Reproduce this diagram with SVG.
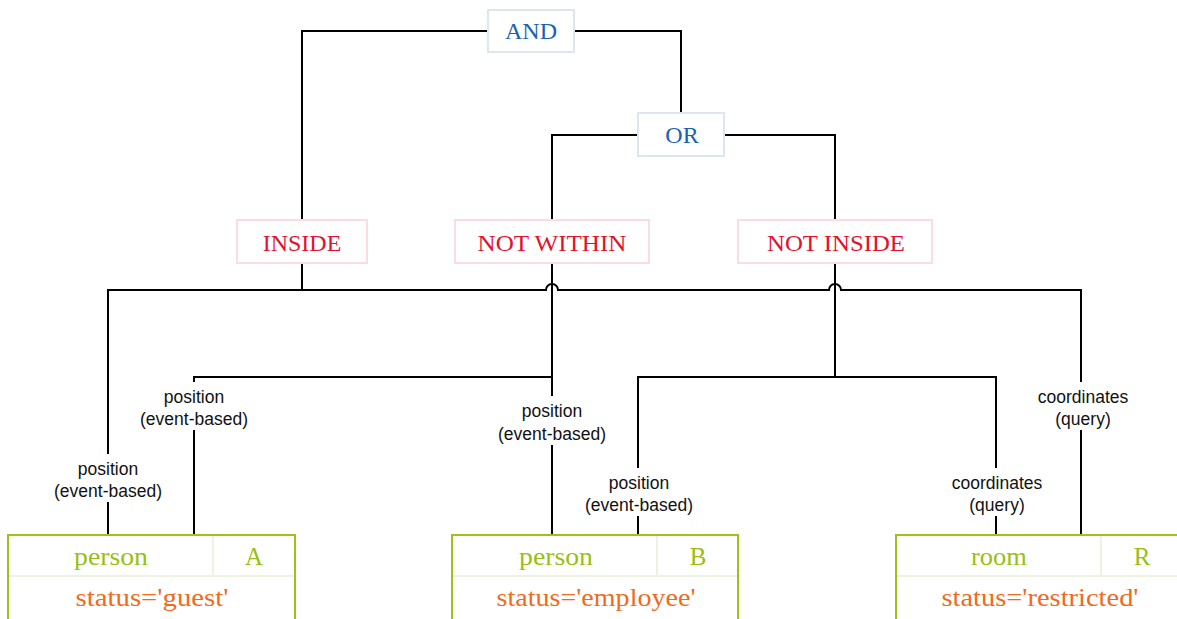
<svg xmlns="http://www.w3.org/2000/svg" width="1177" height="619" viewBox="0 0 1177 619">
  <style>
    .bg { fill: #ffffff; }
    .op { fill: #ffffff; stroke-width: 2; }
    .op-and { stroke: #dde5ef; }
    .op-pred { stroke: #fbdde1; }
    .t-and { font-family: "Liberation Serif", serif; font-size: 24px; fill: #1a63b0; text-anchor: middle; }
    .t-pred { font-family: "Liberation Serif", serif; font-size: 24px; fill: #e3112d; text-anchor: middle; }
    .ent { fill: #ffffff; stroke: #9cc21b; stroke-width: 2; }
    .ent-div { stroke: #eef2e1; stroke-width: 2; fill: none; }
    .t-ent { font-family: "Liberation Serif", serif; font-size: 25px; fill: #98bf14; text-anchor: middle; }
    .t-attr { font-family: "Liberation Serif", serif; font-size: 25px; fill: #f06a1c; text-anchor: middle; }
    .wire { fill: none; stroke: #000000; stroke-width: 2; }
    .lbl-bg { fill: #ffffff; }
    .lbl { font-family: "Liberation Sans", Arial, sans-serif; font-size: 17.5px; fill: #111111; text-anchor: middle; }
  </style>

  <rect class="bg" x="0" y="0" width="1177" height="619"/>

  <!-- wiring between operators and entities -->
  <g id="connectors">
    <path class="wire" d="M488 31 H302 V220"/>
    <path class="wire" d="M574 31 H681 V113"/>
    <path class="wire" d="M638 135 H552 V220"/>
    <path class="wire" d="M724 135 H835 V220"/>
    <path class="wire" d="M302 263 V290"/>
    <path class="wire" d="M108 535 V290 H546 A6 6 0 0 1 558 290 H829 A6 6 0 0 1 841 290 H1081 V535"/>
    <path class="wire" d="M552 263 V535"/>
    <path class="wire" d="M552 377 H194 V535"/>
    <path class="wire" d="M835 263 V377"/>
    <path class="wire" d="M638 535 V377 H996 V535"/>

    <g id="label-a1">
      <rect class="lbl-bg" x="50" y="454" width="116" height="48"/>
      <text class="lbl" x="108" y="475">position</text>
      <text class="lbl" x="108" y="497">(event-based)</text>
    </g>
    <g id="label-a2">
      <rect class="lbl-bg" x="136" y="382" width="116" height="48"/>
      <text class="lbl" x="194" y="403">position</text>
      <text class="lbl" x="194" y="425">(event-based)</text>
    </g>
    <g id="label-b1">
      <rect class="lbl-bg" x="494" y="396" width="116" height="49"/>
      <text class="lbl" x="552" y="417">position</text>
      <text class="lbl" x="552" y="440">(event-based)</text>
    </g>
    <g id="label-b2">
      <rect class="lbl-bg" x="580" y="468" width="116" height="48"/>
      <text class="lbl" x="639" y="489">position</text>
      <text class="lbl" x="639" y="511">(event-based)</text>
    </g>
    <g id="label-r1">
      <rect class="lbl-bg" x="946" y="468" width="100" height="48"/>
      <text class="lbl" x="997" y="489">coordinates</text>
      <text class="lbl" x="997" y="511">(query)</text>
    </g>
    <g id="label-r2">
      <rect class="lbl-bg" x="1032" y="382" width="102" height="48"/>
      <text class="lbl" x="1083" y="403">coordinates</text>
      <text class="lbl" x="1083" y="425">(query)</text>
    </g>
  </g>

  <!-- logical operators -->
  <g id="op-and">
    <rect class="op op-and" x="488" y="10" width="86" height="42"/>
    <text class="t-and" x="531" y="39">AND</text>
  </g>
  <g id="op-or">
    <rect class="op op-and" x="638" y="113" width="86" height="43"/>
    <text class="t-and" x="682" y="143">OR</text>
  </g>

  <!-- spatial predicates -->
  <g id="pred-inside">
    <rect class="op op-pred" x="237" y="220" width="130" height="43"/>
    <text class="t-pred" x="302" y="251">INSIDE</text>
  </g>
  <g id="pred-not-within">
    <rect class="op op-pred" x="455" y="220" width="194" height="43"/>
    <text class="t-pred" x="552" y="251" textLength="149" lengthAdjust="spacingAndGlyphs">NOT WITHIN</text>
  </g>
  <g id="pred-not-inside">
    <rect class="op op-pred" x="738" y="220" width="194" height="43"/>
    <text class="t-pred" x="836" y="251" textLength="138" lengthAdjust="spacingAndGlyphs">NOT INSIDE</text>
  </g>

  <!-- entities -->
  <g id="entity-a">
    <rect class="ent" x="8" y="535" width="287" height="110"/>
    <path class="ent-div" d="M213 536 V576 M9 576 H294"/>
    <text class="t-ent" x="111" y="565" textLength="74" lengthAdjust="spacingAndGlyphs">person</text>
    <text class="t-ent" x="254" y="565">A</text>
    <text class="t-attr" x="152" y="606" textLength="153" lengthAdjust="spacingAndGlyphs">status='guest'</text>
  </g>
  <g id="entity-b">
    <rect class="ent" x="452" y="535" width="286" height="110"/>
    <path class="ent-div" d="M657 536 V576 M453 576 H737"/>
    <text class="t-ent" x="556" y="565" textLength="74" lengthAdjust="spacingAndGlyphs">person</text>
    <text class="t-ent" x="698" y="565">B</text>
    <text class="t-attr" x="596" y="606" textLength="199" lengthAdjust="spacingAndGlyphs">status='employee'</text>
  </g>
  <g id="entity-r">
    <rect class="ent" x="896" y="535" width="286" height="110"/>
    <path class="ent-div" d="M1101 536 V576 M897 576 H1181"/>
    <text class="t-ent" x="999" y="565" textLength="56" lengthAdjust="spacingAndGlyphs">room</text>
    <text class="t-ent" x="1142" y="565">R</text>
    <text class="t-attr" x="1040" y="606" textLength="197" lengthAdjust="spacingAndGlyphs">status='restricted'</text>
  </g>
</svg>
